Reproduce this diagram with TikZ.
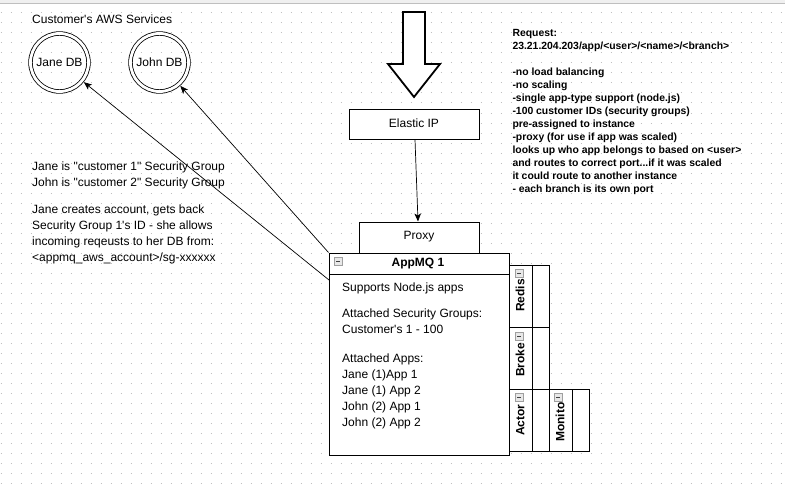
\documentclass[tikz,border=0pt]{standalone}
\usepackage{fontspec}
\setmainfont{Liberation Sans}[Ligatures=TeXOff]
\usetikzlibrary{arrows.meta}
\tikzset{
  griddots/.style={line width=1pt, draw=gray!50, dash pattern=on 1pt off 9pt},
  conn/.style={draw=black, line width=0.7pt, -{Stealth[length=8pt,width=6.5pt,inset=2pt]}},
  boxn/.style={draw=black, line width=1pt, fill=white, inner sep=0pt, text height=9pt, text depth=2pt, font=\fontsize{12}{14}\selectfont},
  dbc/.style={circle, draw=black, line width=0.8pt, double=white, double distance=2.8pt, minimum size=58pt, inner sep=0pt, outer sep=2.3pt, font=\fontsize{12}{14}\selectfont},
  plain/.style={inner sep=0pt, font=\fontsize{12}{14}\selectfont, align=left},
  lane/.style={draw=black, line width=1pt, fill=white, inner sep=0pt, minimum height=62pt},
  lanelbl/.style={inner sep=0pt, rotate=90, anchor=base west, font=\bfseries\fontsize{12}{14}\selectfont},
  icon/.style={draw=gray!75, fill=gray!18, line width=0.6pt, minimum size=8pt, inner sep=0pt,
    path picture={\draw[black!75, line width=0.8pt] ([xshift=2pt]path picture bounding box.west) -- ([xshift=-2pt]path picture bounding box.east);}},
}
\begin{document}
\begin{tikzpicture}[x=1pt,y=-1pt]
\useasboundingbox (0,0) rectangle (785,487);
\fill[white] (0,0) rectangle (785,487);
\fill[gray!12] (0,0) rectangle (785,3);
\draw[gray!50, line width=0.8pt] (0,3.4) -- (785,3.4);
\foreach \yy in {13,23,...,483} \draw[griddots] (0.5,\yy) -- (785,\yy);

% left: customer's services
\node[plain, anchor=base west] (svc) at (32,24) {Customer's AWS Services};
\node[dbc] (jane) at (59.5,62.5) {Jane DB};
\node[dbc] (john) at (159.5,62.5) {John DB};

\node[plain, anchor=base west, font=\fontsize{12}{16.2}\selectfont] (note) at (32,261.7)
 {Jane is "customer 1" Security Group\\
  John is "customer 2" Security Group\\[10.6pt]
  Jane creates account, gets back\\
  Security Group 1's ID - she allows\\
  incoming reqeusts to her DB from:\\
  <appmq\_aws\_account>/sg-xxxxxx};

% big hollow arrow
\draw[line width=1.8pt, fill=white, line join=miter] (403,12) -- (425,12) -- (425,64) -- (440,64) -- (414,97) -- (388,64) -- (403,64) -- cycle;

\node[boxn, minimum width=130pt, minimum height=30pt, text depth=1.6pt] (elastic) at (414,124) {Elastic IP};
\node[boxn, minimum width=120pt, minimum height=31pt, text depth=5.4pt] (proxy) at (419,237.5) {Proxy};

% AppMQ box
\node[draw=black, line width=1pt, fill=white, minimum width=180pt, minimum height=202pt, inner sep=0pt] (appmq) at (419,354) {};
\draw[line width=1pt] ([yshift=-22pt]appmq.north west) -- ([yshift=-22pt]appmq.north east);
\node[inner sep=0pt, anchor=base, font=\bfseries\fontsize{12}{14}\selectfont] (apptitle) at (418,266.7) {AppMQ 1};
\node[icon] (appicon) at (338,261) {};
\node[plain, anchor=base west, font=\fontsize{12}{16}\selectfont] (appbody) at (342,426)
 {Supports Node.js apps\\[9.7pt]
  Attached Security Groups:\\
  Customer's 1 - 100\\[12.4pt]
  Attached Apps:\\
  Jane (1)App 1\\
  Jane (1) App 2\\
  John (2) App 1\\
  John (2) App 2};

% swimlanes
\node[lane, minimum width=23pt] (redisL) at (520.5,296) {};
\node[lane, minimum width=17pt] (redisC) at (540.5,296) {};
\node[lane, minimum width=23pt] (brokerL) at (520.5,358) {};
\node[lane, minimum width=17pt] (brokerC) at (540.5,358) {};
\node[lane, minimum width=23pt] (actorL) at (520.5,420) {};
\node[lane, minimum width=17pt] (actorC) at (540.5,420) {};
\node[lane, minimum width=23pt] (monL) at (560.5,420) {};
\node[lane, minimum width=17pt] (monC) at (580.5,420) {};

\node[lanelbl] (redist) at (524.3,312) {Redis};
\node[lanelbl] (brokert) at (524.3,377) {Broke};
\node[lanelbl] (actort) at (524.3,436) {Actor};
\node[lanelbl] (mont) at (564.3,442) {Monito};

\node[icon] (ir) at (519,273.5) {};
\node[icon] (ib) at (519,336) {};
\node[icon] (ia) at (519,397.5) {};
\node[icon] (im) at (558,397.5) {};

% request notes
\node[plain, anchor=base west, font=\bfseries\fontsize{10.4}{12.95}\selectfont] (req) at (512.3,192.3)
 {Request:\\
  23.21.204.203/app/<user>/<name>/<branch>\\[13.4pt]
  -no load balancing\\
  -no scaling\\
  -single app-type support (node.js)\\
  -100 customer IDs (security groups)\\
  pre-assigned to instance\\
  -proxy (for use if app was scaled)\\
  looks up who app belongs to based on <user>\\
  and routes to correct port...if it was scaled\\
  it could route to another instance\\
  - each branch is its own port};

% connectors
\coordinate (jstart) at (329,280);
\draw[conn] (jstart) -- (jane);
\draw[conn] (appmq.north west) -- (john);
\draw[conn] ([xshift=1pt]elastic.south) -- ([xshift=-1pt]proxy.north);
\end{tikzpicture}
\end{document}
